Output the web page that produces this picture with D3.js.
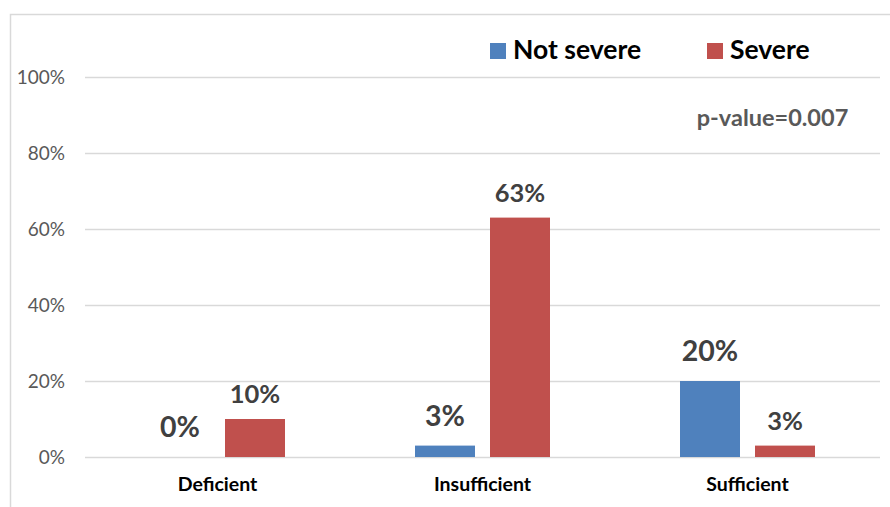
<!DOCTYPE html>
<html>
<head>
<meta charset="utf-8">
<script src="https://cdn.jsdelivr.net/npm/d3@7/dist/d3.min.js"></script>
<style>
  html, body { margin: 0; padding: 0; background: #fff; }
  svg { display: block; }
</style>
</head>
<body>
<svg id="chart" width="890" height="507"></svg>
<script>
// Share of cases by vitamin status, split by severity
const categories = ["Deficient", "Insufficient", "Sufficient"];
const seriesNames = ["Not severe", "Severe"];
const notSevere = [0, 3, 20];
const severe = [10, 63, 3];
const yTicks = [0, 20, 40, 60, 80, 100];
const pValueText = "p-value=0.007";

const colors = { "Not severe": "#4F81BD", "Severe": "#C0504D" };
const font = "Lato, 'Open Sans', sans-serif";

const svg = d3.select("#chart");
const W = 890, H = 507;
const plot = { left: 85, right: 880, top: 77, bottom: 457 };

// chart frame
svg.append("rect")
  .attr("x", 10.5).attr("y", 14.5)
  .attr("width", W).attr("height", H)
  .attr("fill", "none").attr("stroke", "#d9d9d9").attr("stroke-width", 1.5);

const x = d3.scaleBand().domain(categories).range([plot.left, plot.right]);
const xs = d3.scaleBand().domain(seriesNames).range([-67.5, 67.5]).paddingInner(0.2);
const y = d3.scaleLinear().domain([0, 100]).range([plot.bottom, plot.top]);

// gridlines
svg.append("g").selectAll("line").data(yTicks).join("line")
  .attr("x1", plot.left).attr("x2", plot.right)
  .attr("y1", d => Math.round(y(d)) + 0.5).attr("y2", d => Math.round(y(d)) + 0.5)
  .attr("stroke", "#d9d9d9").attr("stroke-width", 1.5);

// y axis labels
const yAxis = d3.axisLeft(y).tickValues(yTicks).tickFormat(d => d + "%").tickSize(0).tickPadding(20);
const gy = svg.append("g").attr("transform", `translate(${plot.left},0)`).call(yAxis);
gy.select(".domain").remove();
gy.selectAll("text").attr("font-family", font).attr("font-size", 19).attr("fill", "#595959");

// x axis labels
const xAxis = d3.axisBottom(x).tickSize(0).tickPadding(20);
const gx = svg.append("g").attr("transform", `translate(0,${plot.bottom})`).call(xAxis);
gx.select(".domain").remove();
gx.selectAll("text").attr("font-family", font).attr("font-size", 19.5)
  .attr("font-weight", "bold").attr("fill", "#000");

// bars
const rows = [];
categories.forEach((c, i) => {
  rows.push({ cat: c, s: "Not severe", v: notSevere[i] });
  rows.push({ cat: c, s: "Severe", v: severe[i] });
});
const cx = d => x(d.cat) + x.bandwidth() / 2 + xs(d.s);

svg.append("g").selectAll("rect").data(rows.filter(d => d.v > 0)).join("rect")
  .attr("x", cx).attr("width", xs.bandwidth())
  .attr("y", d => y(d.v)).attr("height", d => y(0) - y(d.v))
  .attr("fill", d => colors[d.s]);

// value labels
svg.append("g").selectAll("text").data(rows).join("text")
  .attr("x", d => cx(d) + xs.bandwidth() / 2)
  .attr("y", d => y(d.v) - (d.s === "Not severe" ? 20 : 16))
  .attr("text-anchor", "middle")
  .attr("font-family", font).attr("font-weight", "bold")
  .attr("font-size", d => d.s === "Not severe" ? 28.5 : 25.5)
  .attr("fill", "#404040")
  .text(d => d.v + "%");

// legend
const legend = svg.append("g");
const legendX = [490, 707];
seriesNames.forEach((s, i) => {
  const g = legend.append("g").attr("transform", `translate(${legendX[i]},43)`);
  g.append("rect").attr("width", 16).attr("height", 16).attr("fill", colors[s]);
  g.append("text").attr("x", 23).attr("y", 16)
    .attr("font-family", font).attr("font-weight", "bold").attr("font-size", 26.5)
    .attr("fill", "#000").text(s);
});

// p-value note
svg.append("text").attr("x", 772.5).attr("y", 126).attr("text-anchor", "middle")
  .attr("font-family", font).attr("font-weight", "bold").attr("font-size", 23.5)
  .attr("fill", "#595959").text(pValueText);
</script>
</body>
</html>
